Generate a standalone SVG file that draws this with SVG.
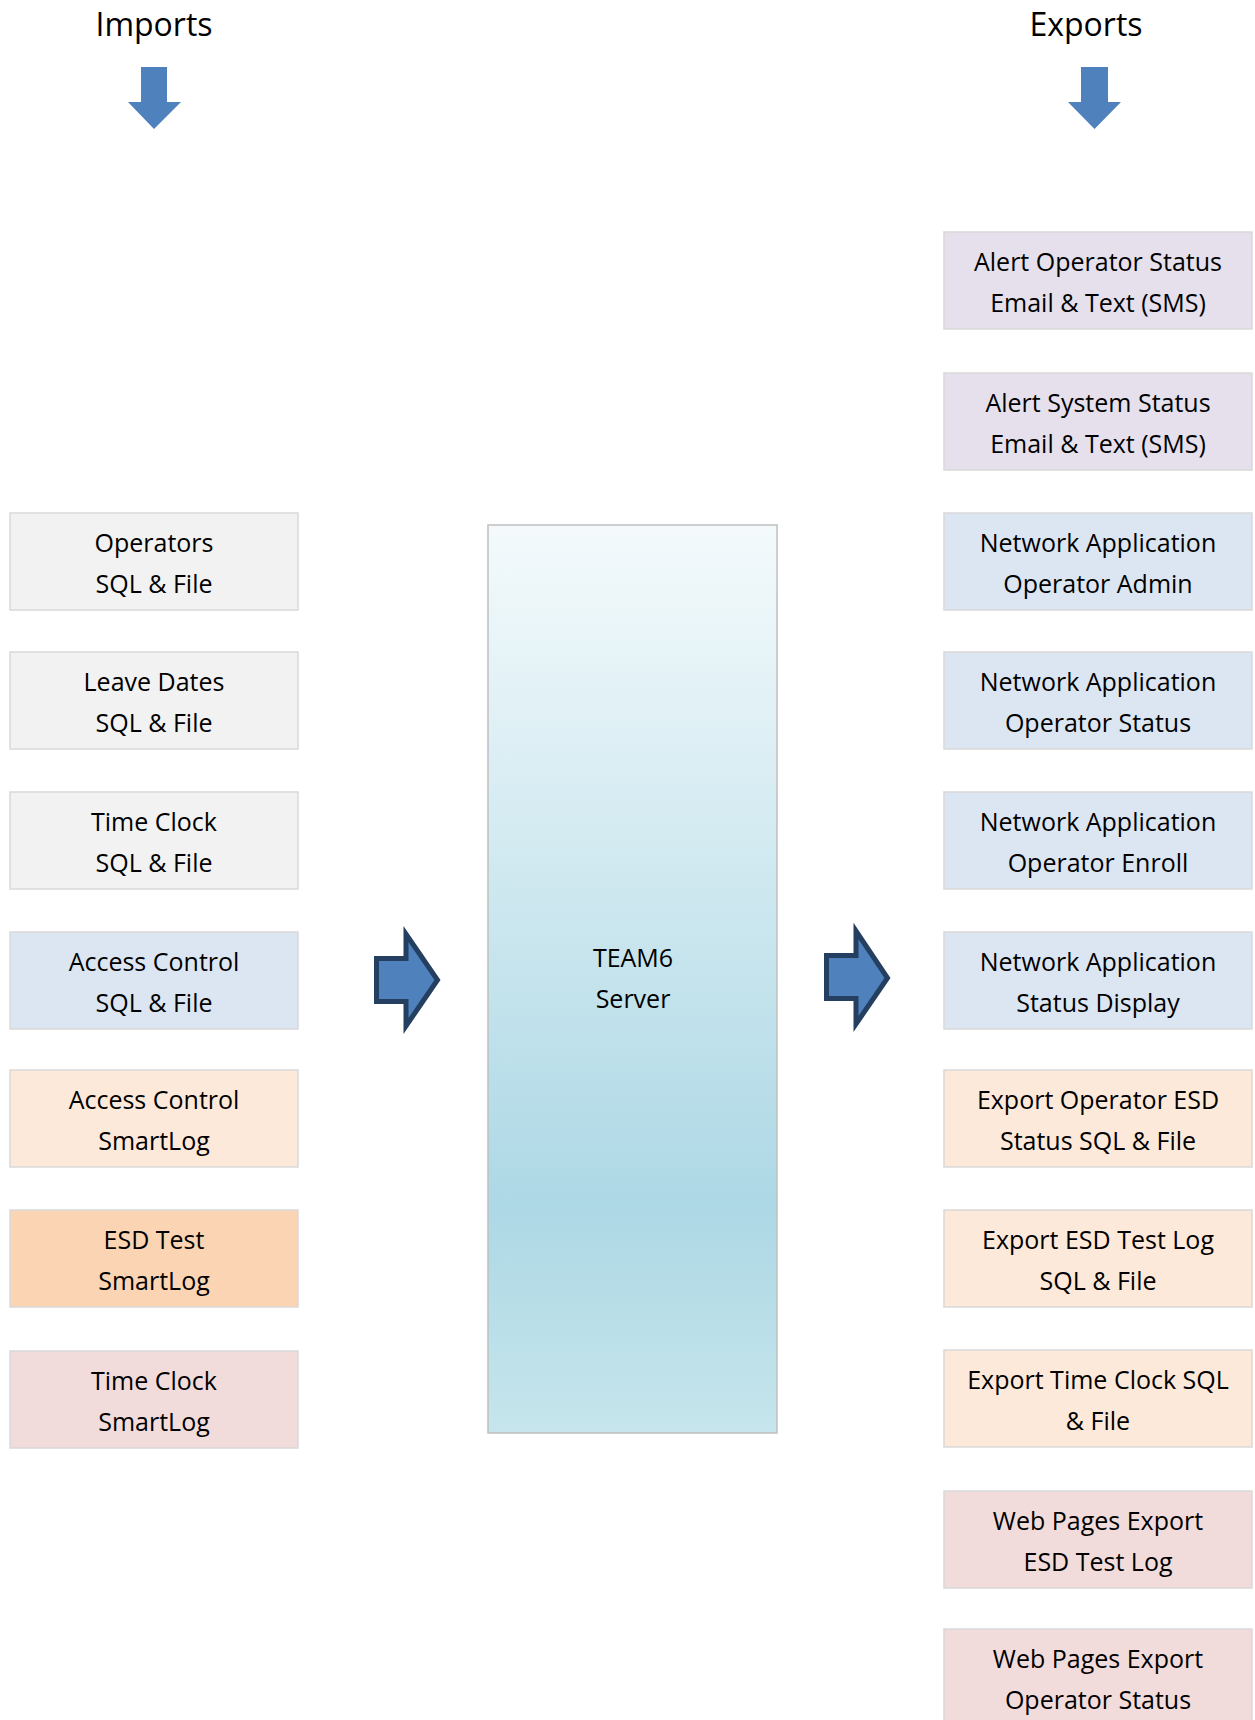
<svg xmlns="http://www.w3.org/2000/svg" width="1255" height="1720" viewBox="0 0 1255 1720">
<style>
  .t { font-family: "Open Sans", "Liberation Sans", sans-serif; font-size: 25px; fill: #000; text-anchor: middle; }
  .h { font-family: "Open Sans", "Liberation Sans", sans-serif; font-size: 32px; fill: #000; text-anchor: middle; }
  .box { stroke: #D9D9D9; stroke-width: 1.5; }
  .grey { fill: #F2F2F2; }
  .blue { fill: #DCE6F2; }
  .lav { fill: #E5E0EC; }
  .peach { fill: #FDE9D9; }
  .orange { fill: #FBD4B4; }
  .pink { fill: #F2DCDB; }
  .down { fill: #4F81BD; }
  .blk { fill: #4F81BD; stroke: #243F60; stroke-width: 5; stroke-linejoin: miter; }
</style>
<defs>
  <linearGradient id="srv" x1="0" y1="0" x2="0" y2="1">
    <stop offset="0" stop-color="#F4FAFC"/>
    <stop offset="0.75" stop-color="#ADD8E5"/>
    <stop offset="1" stop-color="#C6E5EC"/>
  </linearGradient>
</defs>
<rect width="1255" height="1720" fill="#FFFFFF"/>

<g id="imports-title">
  <text class="h" x="154" y="36">Imports</text>
  <path class="down" d="M141,67 H167 V102 H181 L154,129 L128,102 H141 Z"/>
</g>
<g id="exports-title">
  <text class="h" x="1086" y="36">Exports</text>
  <path class="down" d="M1081,67 H1108 V102 H1121 L1094.5,129 L1068,102 H1081 Z"/>
</g>

<g id="server">
  <rect x="488" y="525" width="289" height="908" fill="url(#srv)" stroke="#BFBFBF" stroke-width="1.5"/>
  <text class="t" x="633" y="967">TEAM6</text>
  <text class="t" x="633" y="1008">Server</text>
</g>

<g id="imp-operators"><rect class="box grey" x="10" y="513" width="288" height="97"/><text class="t" x="154" y="552">Operators</text><text class="t" x="154" y="593">SQL &amp; File</text></g>
<g id="imp-leave"><rect class="box grey" x="10" y="652" width="288" height="97"/><text class="t" x="154" y="691">Leave Dates</text><text class="t" x="154" y="732">SQL &amp; File</text></g>
<g id="imp-timeclock-sql"><rect class="box grey" x="10" y="792" width="288" height="97"/><text class="t" x="154" y="831">Time Clock</text><text class="t" x="154" y="872">SQL &amp; File</text></g>
<g id="imp-access-sql"><rect class="box blue" x="10" y="932" width="288" height="97"/><text class="t" x="154" y="971">Access Control</text><text class="t" x="154" y="1012">SQL &amp; File</text></g>
<g id="imp-access-smartlog"><rect class="box peach" x="10" y="1070" width="288" height="97"/><text class="t" x="154" y="1109">Access Control</text><text class="t" x="154" y="1150">SmartLog</text></g>
<g id="imp-esd-smartlog"><rect class="box orange" x="10" y="1210" width="288" height="97"/><text class="t" x="154" y="1249">ESD Test</text><text class="t" x="154" y="1290">SmartLog</text></g>
<g id="imp-timeclock-smartlog"><rect class="box pink" x="10" y="1351" width="288" height="97"/><text class="t" x="154" y="1390">Time Clock</text><text class="t" x="154" y="1431">SmartLog</text></g>

<g id="exp-alert-operator"><rect class="box lav" x="944" y="232" width="308" height="97"/><text class="t" x="1098" y="271">Alert Operator Status</text><text class="t" x="1098" y="312">Email &amp; Text (SMS)</text></g>
<g id="exp-alert-system"><rect class="box lav" x="944" y="373" width="308" height="97"/><text class="t" x="1098" y="412">Alert System Status</text><text class="t" x="1098" y="453">Email &amp; Text (SMS)</text></g>
<g id="exp-net-admin"><rect class="box blue" x="944" y="513" width="308" height="97"/><text class="t" x="1098" y="552">Network Application</text><text class="t" x="1098" y="593">Operator Admin</text></g>
<g id="exp-net-status"><rect class="box blue" x="944" y="652" width="308" height="97"/><text class="t" x="1098" y="691">Network Application</text><text class="t" x="1098" y="732">Operator Status</text></g>
<g id="exp-net-enroll"><rect class="box blue" x="944" y="792" width="308" height="97"/><text class="t" x="1098" y="831">Network Application</text><text class="t" x="1098" y="872">Operator Enroll</text></g>
<g id="exp-net-display"><rect class="box blue" x="944" y="932" width="308" height="97"/><text class="t" x="1098" y="971">Network Application</text><text class="t" x="1098" y="1012">Status Display</text></g>
<g id="exp-operator-esd"><rect class="box peach" x="944" y="1070" width="308" height="97"/><text class="t" x="1098" y="1109">Export Operator ESD</text><text class="t" x="1098" y="1150">Status SQL &amp; File</text></g>
<g id="exp-esd-log"><rect class="box peach" x="944" y="1210" width="308" height="97"/><text class="t" x="1098" y="1249">Export ESD Test Log</text><text class="t" x="1098" y="1290">SQL &amp; File</text></g>
<g id="exp-timeclock"><rect class="box peach" x="944" y="1350" width="308" height="97"/><text class="t" x="1098" y="1389">Export Time Clock SQL</text><text class="t" x="1098" y="1430">&amp; File</text></g>
<g id="exp-web-esd"><rect class="box pink" x="944" y="1491" width="308" height="97"/><text class="t" x="1098" y="1530">Web Pages Export</text><text class="t" x="1098" y="1571">ESD Test Log</text></g>
<g id="exp-web-operator"><rect class="box pink" x="944" y="1629" width="308" height="97"/><text class="t" x="1098" y="1668">Web Pages Export</text><text class="t" x="1098" y="1709">Operator Status</text></g>

<g id="connectors">
  <path class="blk" d="M376.5,958.5 H406 V934 L437.5,980 L406,1026 V1001.5 H376.5 Z"/>
  <path class="blk" d="M826.5,955.5 H856 V931 L887.5,978 L856,1024 V998.5 H826.5 Z"/>
</g>
</svg>
